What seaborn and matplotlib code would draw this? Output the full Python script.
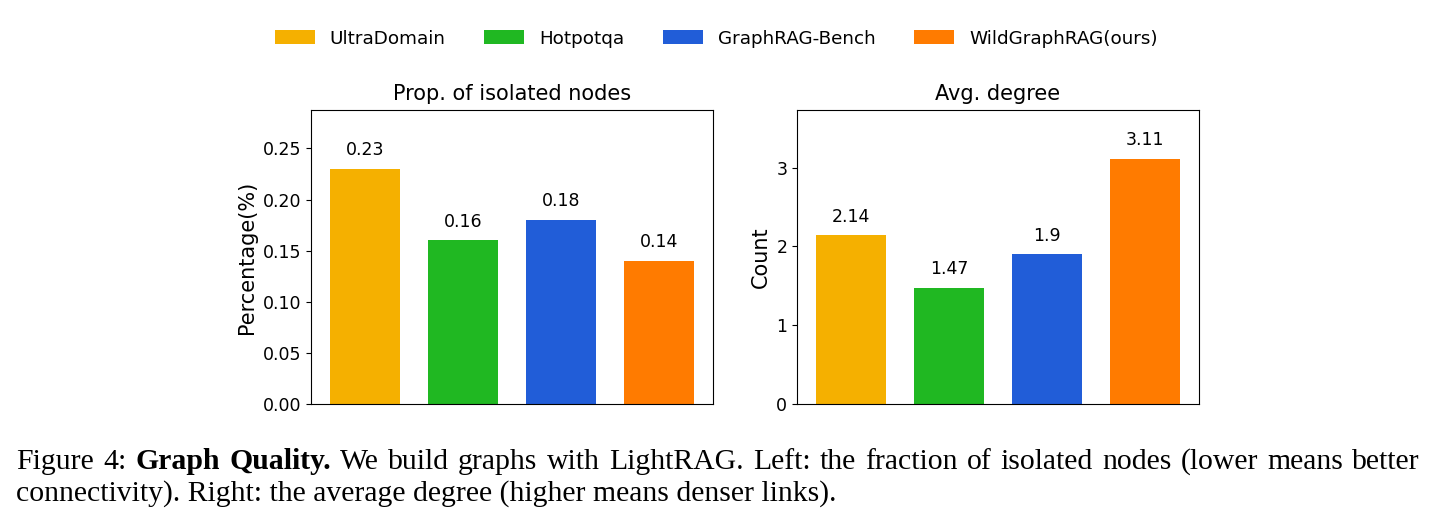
import matplotlib
matplotlib.use('Agg')
import matplotlib.pyplot as plt
import seaborn as sns
import pandas as pd
from matplotlib.patches import Patch

# Data
datasets = ['UltraDomain', 'Hotpotqa', 'GraphRAG-Bench', 'WildGraphRAG(ours)']
isolated_prop = [0.23, 0.16, 0.18, 0.14]
avg_degree = [2.14, 1.47, 1.9, 3.11]
colors = ['#F5B000', '#20B822', '#215DD8', '#FF7B00']

caption_line1 = [('Figure', 'normal'), ('4:', 'normal'), ('Graph', 'bold'), ('Quality.', 'bold'),
                 ('We', 'normal'), ('build', 'normal'), ('graphs', 'normal'), ('with', 'normal'),
                 ('LightRAG.', 'normal'), ('Left:', 'normal'), ('the', 'normal'),
                 ('fraction', 'normal'), ('of', 'normal'), ('isolated', 'normal'),
                 ('nodes', 'normal'), ('(lower', 'normal'), ('means', 'normal'),
                 ('better', 'normal')]
caption_line2 = 'connectivity). Right: the average degree (higher means denser links).'

plt.rcParams['font.family'] = ['DejaVu Sans']

fig = plt.figure(figsize=(14.35, 5.24), dpi=100)
ax1 = fig.add_axes([0.2167, 0.229, 0.2801, 0.561])
ax2 = fig.add_axes([0.5554, 0.229, 0.2801, 0.561])

panels = [
    (ax1, isolated_prop, 'Prop. of isolated nodes', 'Percentage(%)', (0, 0.2875), None),
    (ax2, avg_degree, 'Avg. degree', 'Count', (0, 3.73), [0, 1, 2, 3]),
]

for ax, values, title, ylabel, ylim, yticks in panels:
    df = pd.DataFrame({'dataset': datasets, 'value': values})
    sns.barplot(data=df, x='dataset', y='value', hue='dataset', palette=colors,
                width=0.72, legend=False, ax=ax, linewidth=0, saturation=1)
    for cont, v in zip(ax.containers, values):
        ax.bar_label(cont, labels=[f'{v:g}'], padding=7, fontsize=12.5)
    ax.set_xlim(-0.55, 3.55)
    ax.set_ylim(*ylim)
    if yticks is not None:
        ax.set_yticks(yticks)
    ax.set_xticks([])
    ax.set_xlabel('')
    ax.set_ylabel(ylabel, fontsize=15)
    ax.set_title(title, fontsize=15, pad=7)
    ax.tick_params(axis='y', labelsize=12.5)

handles = [Patch(facecolor=c, label=d) for c, d in zip(colors, datasets)]
fig.legend(handles=handles, loc='upper center', bbox_to_anchor=(0.499, 0.975), ncol=4,
           frameon=False, fontsize=13.2, handlelength=2.2, handleheight=0.8,
           handletextpad=0.8, columnspacing=2.1)

# Caption below the panels (first line justified like the paper)
cap_size = 21.4
W = 1435
y1 = (524 - 469) / 524
y2 = (524 - 501) / 524
left_px, right_px = 16, 1420

words = [fig.text(0, y1, w, family='Liberation Serif', fontsize=cap_size,
                  weight=wt, va='baseline') for w, wt in caption_line1]
fig.canvas.draw()
r = fig.canvas.get_renderer()
widths = [t.get_window_extent(r).width for t in words]
gap = (right_px - left_px - sum(widths)) / (len(words) - 1)
x = left_px
for t, w in zip(words, widths):
    t.set_x(x / W)
    x += w + gap

fig.text(left_px / W, y2, caption_line2, family='Liberation Serif', fontsize=cap_size,
         va='baseline')

fig.savefig('out.png', dpi=100)
